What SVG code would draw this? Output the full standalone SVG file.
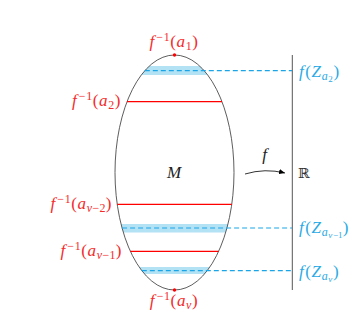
<svg xmlns="http://www.w3.org/2000/svg" width="359" height="322" viewBox="0 0 359 322">
<style>
text{font-family:"Liberation Serif","Times New Roman",serif;font-size:17px;letter-spacing:0.6px}
.red{fill:#f52a2a}
.blue{fill:#2aaae6}
.it{font-style:italic}
.s{font-size:12px}
.ss{font-size:9px}
.rl{stroke:#ff0000;stroke-width:1.3;fill:none}
.dl{stroke:#1aa5e8;stroke-width:1.2;stroke-dasharray:5 3;fill:none}
.band{fill:#b3e2f5}
</style>
<defs>
<clipPath id="ec"><ellipse cx="174.5" cy="172.5" rx="59.5" ry="117.5"/></clipPath>
<marker id="ah" markerWidth="8" markerHeight="6" refX="6" refY="3" orient="auto" markerUnits="userSpaceOnUse"><path d="M0,0.5 L6,3 L0,5.5 Z" fill="#000"/></marker>
</defs>
<rect width="359" height="322" fill="#fff"/>
<g id="bands" clip-path="url(#ec)">
<rect class="band" x="100" y="66" width="150" height="9"/>
<rect class="band" x="100" y="224" width="150" height="8.5"/>
<rect class="band" x="100" y="267" width="150" height="7"/>
</g>
<g id="M">
<ellipse cx="174.5" cy="172.5" rx="59.5" ry="117.5" fill="none" stroke="#333" stroke-width="0.8"/>
<text class="it" x="174.5" y="178" text-anchor="middle" fill="#222">M</text>
</g>
<g id="levels">
<line class="rl" x1="127" y1="101.7" x2="222" y2="101.7"/>
<line class="rl" x1="117.2" y1="204.3" x2="231.8" y2="204.3"/>
<line class="rl" x1="130.4" y1="251.3" x2="218.6" y2="251.3"/>
<circle cx="174.5" cy="55" r="1.7" fill="#ff0000"/>
<circle cx="174.5" cy="290" r="1.7" fill="#ff0000"/>
</g>
<g id="R">
<line x1="292.3" y1="55" x2="292.3" y2="290" stroke="#555" stroke-width="1"/>
<text x="298" y="178" style="font-family:'DejaVu Serif',serif;font-size:14px;letter-spacing:0" fill="#333">ℝ</text>
</g>
<g id="connectors">
<line class="dl" x1="144.8" y1="70.7" x2="292" y2="70.7"/>
<line class="dl" x1="122.1" y1="228" x2="292" y2="228"/>
<line class="dl" x1="141.8" y1="270.7" x2="292" y2="270.7"/>
<path d="M245,174 Q265,168 285,173" fill="none" stroke="#000" stroke-width="0.8" marker-end="url(#ah)"/>
<text class="it" x="265" y="160" text-anchor="middle" fill="#222">f</text>
</g>
<g id="labels-red">
<text class="red" x="174" y="47" text-anchor="middle"><tspan class="it">f</tspan><tspan class="s" dx="1.5" dy="-6">−1</tspan><tspan dy="6">(</tspan><tspan class="it">a</tspan><tspan class="s" dy="3">1</tspan><tspan dy="-3">)</tspan></text>
<text class="red" x="121" y="106" text-anchor="end"><tspan class="it">f</tspan><tspan class="s" dx="1.5" dy="-6">−1</tspan><tspan dy="6">(</tspan><tspan class="it">a</tspan><tspan class="s" dy="3">2</tspan><tspan dy="-3">)</tspan></text>
<text class="red" x="112" y="208.5" text-anchor="end"><tspan class="it">f</tspan><tspan class="s" dx="1.5" dy="-6">−1</tspan><tspan dy="6">(</tspan><tspan class="it">a</tspan><tspan class="s it" dy="3">ν</tspan><tspan class="s" style="letter-spacing:0.2px">−2</tspan><tspan dy="-3">)</tspan></text>
<text class="red" x="122" y="255.5" text-anchor="end"><tspan class="it">f</tspan><tspan class="s" dx="1.5" dy="-6">−1</tspan><tspan dy="6">(</tspan><tspan class="it">a</tspan><tspan class="s it" dy="3">ν</tspan><tspan class="s" style="letter-spacing:0.2px">−1</tspan><tspan dy="-3">)</tspan></text>
<text class="red" x="174" y="306" text-anchor="middle"><tspan class="it">f</tspan><tspan class="s" dx="1.5" dy="-6">−1</tspan><tspan dy="6">(</tspan><tspan class="it">a</tspan><tspan class="s it" dy="3">ν</tspan><tspan dy="-3">)</tspan></text>
</g>
<g id="labels-blue">
<text class="blue" x="299" y="76.5"><tspan class="it">f</tspan><tspan dx="1">(</tspan><tspan class="it">Z</tspan><tspan class="s it" dy="3">a</tspan><tspan class="ss" dy="2">2</tspan><tspan dy="-5">)</tspan></text>
<text class="blue" x="299" y="233"><tspan class="it">f</tspan><tspan dx="1">(</tspan><tspan class="it">Z</tspan><tspan class="s it" dy="3">a</tspan><tspan class="ss it" dy="2">ν</tspan><tspan class="ss" style="letter-spacing:0.1px">−1</tspan><tspan dy="-5">)</tspan></text>
<text class="blue" x="299" y="277"><tspan class="it">f</tspan><tspan dx="1">(</tspan><tspan class="it">Z</tspan><tspan class="s it" dy="3">a</tspan><tspan class="ss it" dy="2">ν</tspan><tspan dy="-5">)</tspan></text>
</g>
</svg>
